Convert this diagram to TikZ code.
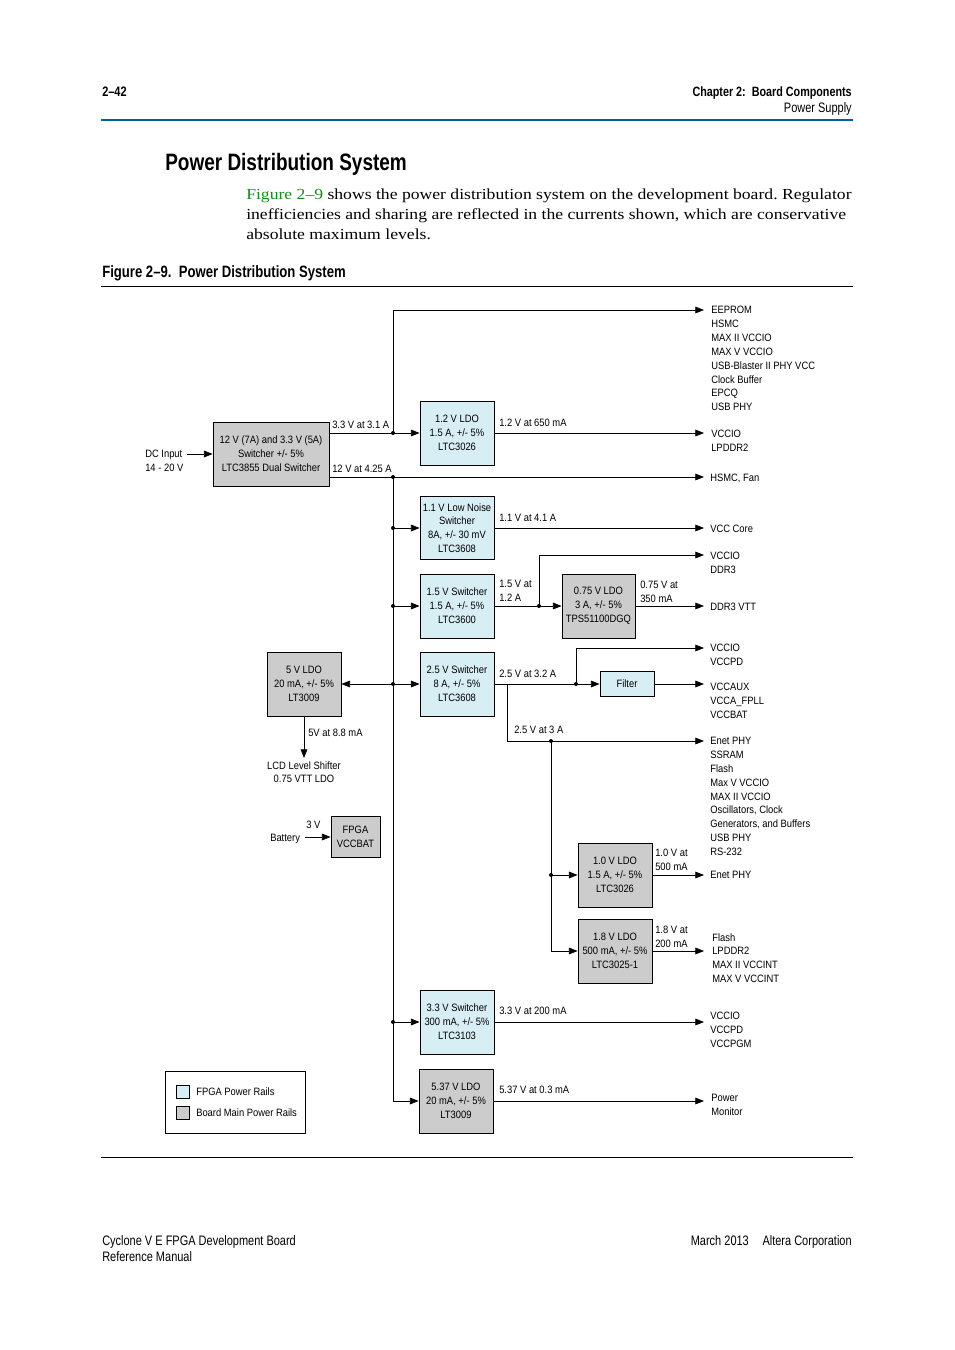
\documentclass[tikz,border=0pt]{standalone}
\usepackage{fontspec}
\setmainfont{Liberation Serif}
\newfontfamily\parafont{Liberation Serif}[FakeStretch=1.15]
\newfontfamily\condfont{Liberation Sans}[FakeStretch=0.8]
\newfontfamily\diagfont{Liberation Sans}[FakeStretch=0.88]
\usepackage{tikz}
\usetikzlibrary{arrows.meta}
\definecolor{railblue}{RGB}{216,238,245}
\definecolor{railgrey}{RGB}{204,204,204}
\definecolor{ruleblue}{RGB}{0,94,154}
\definecolor{linkgreen}{RGB}{22,138,30}
\frenchspacing

\begin{document}
\begin{tikzpicture}[x=0.75pt,y=-0.75pt,
  dfont/.style={font=\diagfont\fontsize{8}{10.4}\selectfont},
  box/.style={draw,line width=0.6pt,align=center,inner sep=0pt,dfont,minimum width=55.5pt,minimum height=48pt},
  fpga/.style={box,fill=railblue},
  board/.style={box,fill=railgrey},
  lbl/.style={anchor=north west,inner sep=0pt,align=left,dfont},
  wire/.style={line width=0.6pt},
  feed/.style={wire,-{Triangle[length=6.5pt,width=5pt]}},
  dot/.style={circle,fill,inner sep=0pt,minimum size=3pt},
  head/.style={inner sep=0pt,font=\condfont\fontsize{10.3}{12.4}\selectfont}]
\useasboundingbox (0,0) rectangle (954,1350);

\node[head,anchor=base west,font=\condfont\bfseries\fontsize{10.3}{12.4}\selectfont] (pgno) at (102,96) {2\textendash42};
\node[head,anchor=base east,font=\condfont\bfseries\fontsize{10.1}{12.4}\selectfont] (chap) at (852,96) {Chapter 2:\ \ Board Components};
\node[head,anchor=base east] (sect) at (852,112) {Power Supply};
\draw[ruleblue,line width=1.5pt] (101,120) -- (853,120);
\node[head,anchor=base west,font=\condfont\bfseries\fontsize{17.8}{20}\selectfont] (title) at (165,170.5) {Power Distribution System};
\node[anchor=north west,inner sep=0pt,align=left,font=\parafont\fontsize{11.5}{15}\selectfont] (intro) at (246,189) {\textcolor{linkgreen}{Figure 2\textendash9} shows the power distribution system on the development board. Regulator\\
inefficiencies and sharing are reflected in the currents shown, which are conservative\\
absolute maximum levels.};
\node[head,anchor=base west,font=\condfont\bfseries\fontsize{12.3}{14}\selectfont] (figcap) at (102,277.5) {Figure 2\textendash9.\ \ Power Distribution System};
\draw[line width=0.75pt] (101,286) -- (853,286);
\draw[line width=0.75pt] (101,1157) -- (853,1157);
\node[head,anchor=base west] (foot1) at (102,1245) {Cyclone V E FPGA Development Board};
\node[head,anchor=base west] (foot2) at (102,1261) {Reference Manual};
\node[head,anchor=base east] (foot3) at (852,1245) {March 2013\quad Altera Corporation};

\node[board,minimum width=87pt] (sw) at (271,454) {12 V (7A) and 3.3 V (5A)\\Switcher +/- 5\%\\LTC3855 Dual Switcher};
\node[fpga] (ldoA) at (457,433) {1.2 V LDO\\1.5 A, +/- 5\%\\LTC3026};
\node[fpga,minimum height=47.25pt] (swB) at (457,528) {1.1 V Low Noise\\Switcher\\8A, +/- 30 mV\\LTC3608};
\node[fpga] (swC) at (457,606) {1.5 V Switcher\\1.5 A, +/- 5\%\\LTC3600};
\node[board,minimum width=54.75pt] (ldoD) at (598.5,606) {0.75 V LDO\\3 A, +/- 5\%\\TPS51100DGQ};
\node[fpga] (swE) at (457,684) {2.5 V Switcher\\8 A, +/- 5\%\\LTC3608};
\node[board] (ldoF) at (304,684) {5 V LDO\\20 mA, +/- 5\%\\LT3009};
\node[fpga,minimum width=40.5pt,minimum height=18.75pt] (filt) at (627,684) {Filter};
\node[board] (ldoG) at (615,875) {1.0 V LDO\\1.5 A, +/- 5\%\\LTC3026};
\node[board] (ldoH) at (615,951) {1.8 V LDO\\500 mA, +/- 5\%\\LTC3025-1};
\node[board,minimum width=36.75pt,minimum height=30.75pt] (bat) at (355.5,837) {FPGA\\VCCBAT};
\node[fpga] (swI) at (457,1022) {3.3 V Switcher\\300 mA, +/- 5\%\\LTC3103};
\node[board] (ldoJ) at (456,1101) {5.37 V LDO\\20 mA, +/- 5\%\\LT3009};

\coordinate (dcs) at (187,454);
\coordinate (bats) at (305,837);
\coordinate (j33) at (393,433);
\coordinate (j12) at (393,477);
\coordinate (jB) at (393,528);
\coordinate (jC) at (393,606);
\coordinate (jE) at (393,684);
\coordinate (jI) at (393,1022);
\coordinate (cJ) at (393,1101);
\coordinate (j15) at (539,606);
\coordinate (j25) at (576,684);
\coordinate (b25) at (507,684);
\coordinate (j25b) at (551,741);
\coordinate (jG) at (551,875);
\coordinate (lcd) at (304,758);
\coordinate (eA) at (704,310);
\coordinate (eB) at (704,433);
\coordinate (eC) at (704,477);
\coordinate (eD) at (704,528);
\coordinate (eE) at (704,555);
\coordinate (eF) at (704,606);
\coordinate (eG) at (704,648);
\coordinate (eH) at (704,684);
\coordinate (eI) at (704,741);
\coordinate (eJ) at (704,875);
\coordinate (eK) at (704,951);
\coordinate (eL) at (704,1022);
\coordinate (eM) at (704,1101);

\draw[feed] (dcs) -- (sw.west);
\draw[feed] (sw.east |- j33) -- (ldoA.west);
\draw[feed] (j33) |- (eA);
\draw[feed] (ldoA.east) -- (eB);
\draw[feed] (sw.east |- j12) -- (eC);
\draw[wire] (j12) -- (cJ);
\draw[feed] (jB) -- (swB.west);
\draw[feed] (swB.east) -- (eD);
\draw[feed] (jC) -- (swC.west);
\draw[feed] (swC.east) -- (ldoD.west);
\draw[feed] (j15) |- (eE);
\draw[feed] (ldoD.east) -- (eF);
\draw[feed] (jE) -- (swE.west);
\draw[feed] (jE) -- (ldoF.east);
\draw[feed] (ldoF.south) -- (lcd);
\draw[feed] (swE.east) -- (filt.west);
\draw[feed] (j25) |- (eG);
\draw[feed] (filt.east) -- (eH);
\draw[feed] (b25) |- (eI);
\draw[feed] (j25b) |- (ldoH.west);
\draw[feed] (jG) -- (ldoG.west);
\draw[feed] (ldoG.east) -- (eJ);
\draw[feed] (ldoH.east) -- (eK);
\draw[feed] (jI) -- (swI.west);
\draw[feed] (swI.east) -- (eL);
\draw[feed] (cJ) -- (ldoJ.west);
\draw[feed] (ldoJ.east) -- (eM);
\draw[feed] (bats) -- (bat.west);
\foreach \j in {j33,j12,jB,jC,jE,jI,j15,j25,j25b,jG} \node[dot] at (\j) {};

\node[lbl] (dcin) at (145,450) {DC Input\\14 - 20 V};
\node[lbl] (l33) at (332,421) {3.3 V at 3.1 A};
\node[lbl] (l12) at (332,465) {12 V at 4.25 A};
\node[lbl] (lA) at (499,419) {1.2 V at 650 mA};
\node[lbl] (lB) at (499,514) {1.1 V at 4.1 A};
\node[lbl] (lC) at (499,580) {1.5 V at\\1.2 A};
\node[lbl] (lD) at (640,581) {0.75 V at\\350 mA};
\node[lbl] (lE) at (499,670) {2.5 V at 3.2 A};
\node[lbl] (lE2) at (514,726) {2.5 V at 3 A};
\node[lbl] (lF) at (308,729) {5V at 8.8 mA};
\node[lbl,anchor=north,align=center] (lcdtxt) at (304,761) {LCD Level Shifter\\0.75 VTT LDO};
\node[lbl] (lG) at (655,849) {1.0 V at\\500 mA};
\node[lbl] (lH) at (655,926) {1.8 V at\\200 mA};
\node[lbl] (lI) at (499,1007) {3.3 V at 200 mA};
\node[lbl] (lJ) at (499,1086) {5.37 V at 0.3 mA};
\node[lbl] (l3v) at (306,821) {3 V};
\node[lbl] (lbat) at (270,834) {Battery};

\node[lbl] (tA) at (711,306) {EEPROM\\HSMC\\MAX II VCCIO\\MAX V VCCIO\\USB-Blaster II PHY VCC\\Clock Buffer\\EPCQ\\USB PHY};
\node[lbl] (tB) at (711,430) {VCCIO\\LPDDR2};
\node[lbl] (tC) at (710,474) {HSMC, Fan};
\node[lbl] (tD) at (710,525) {VCC Core};
\node[lbl] (tE) at (710,552) {VCCIO\\DDR3};
\node[lbl] (tF) at (710,603) {DDR3 VTT};
\node[lbl] (tG) at (710,644) {VCCIO\\VCCPD};
\node[lbl] (tH) at (710,683) {VCCAUX\\VCCA\_FPLL\\VCCBAT};
\node[lbl] (tI) at (710,737) {Enet PHY\\SSRAM\\Flash\\Max V VCCIO\\MAX II VCCIO\\Oscillators, Clock\\Generators, and Buffers\\USB PHY\\RS-232};
\node[lbl] (tJ) at (710,871) {Enet PHY};
\node[lbl] (tK) at (712,933) {Flash\\LPDDR2\\MAX II VCCINT\\MAX V VCCINT};
\node[lbl] (tL) at (710,1012) {VCCIO\\VCCPD\\VCCPGM};
\node[lbl] (tM) at (711,1094) {Power\\Monitor};

\node[draw,line width=0.6pt,inner sep=0pt,minimum width=105pt,minimum height=46.5pt] (legend) at (235,1102) {};
\node[draw,line width=0.6pt,fill=railblue,inner sep=0pt,minimum size=9.75pt] (keyA) at (183,1091.5) {};
\node[draw,line width=0.6pt,fill=railgrey,inner sep=0pt,minimum size=9.75pt] (keyB) at (183,1112.5) {};
\node[lbl] (keyAt) at (196,1087) {FPGA Power Rails};
\node[lbl] (keyBt) at (196,1108) {Board Main Power Rails};
\end{tikzpicture}
\end{document}
